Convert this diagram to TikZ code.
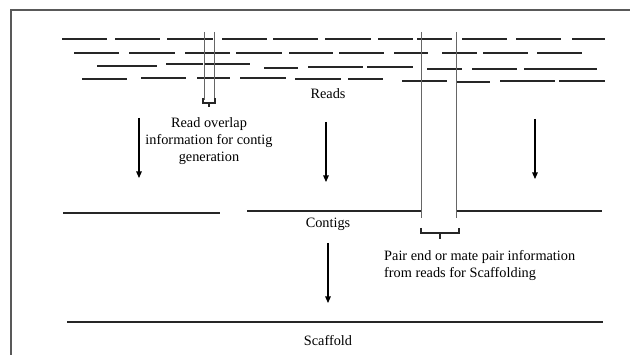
\documentclass[tikz,border=0pt]{standalone}
\usepackage{fontspec}
\setmainfont{Liberation Serif}
\usetikzlibrary{arrows.meta}

\begin{document}
\begin{tikzpicture}[x=1pt, y=-1pt,
  frm/.style={draw=black!65, line width=1.6pt},
  rd/.style={line width=2.2pt, black!85},
  ctg/.style={line width=2.7pt, black!85},
  gap/.style={draw=black!60, line width=0.8pt},
  brc/.style={line width=1.2pt, black!85},
  arr/.style={-{Triangle[width=5.5pt,length=6.5pt]}, line width=1.2pt},
  lbl/.style={font=\fontsize{14.3}{17}\selectfont, inner sep=0pt, align=center}
]
  \useasboundingbox (0,0) rectangle (630,355);
  % frame
  \draw[frm] (11,355) -- (11,10) -- (630,10);

  % reads
  \foreach \xa/\xb/\yy in {62/107/39, 115/160/39, 167/213/39, 222/267/39, 273/318/39,
      325/371/39, 378/413/39, 417/452/39, 462/507/39, 516/561/39, 572/605/39,
      74/119/53, 129/175/53, 185/230/53, 236/282/53, 289/333/53, 339/384/53,
      394/428/53, 442/477/53, 483/528/53, 537/582/53,
      97/157/66, 166/203/64, 205/250/64, 264/298/68, 308/363/67, 367/413/67,
      427/462/69, 472/517/69, 524/597/69,
      82/127/79, 141/186/78, 197/230/78, 240/286/78, 295/341/79, 348/383/79,
      402/447/81, 457/490/82, 500/555/81, 559/605/81}
    \draw[rd] (\xa,\yy) -- (\xb,\yy);
  \node[lbl] (reads) at (328,94) {Reads};

  % overlap window
  \draw[gap] (204,32) -- (204,100) (214,32) -- (214,100);
  \draw[brc] (203,98) -- (203,103) -- (215,103) -- (215,98) (209,103) -- (209,107);
  \node[lbl] (overlap) at (209,141) {Read overlap\\information for contig\\generation};

  % contigs
  \draw[ctg] (63,213) -- (220,213);
  \draw[ctg] (247,211) -- (421,211);
  \draw[ctg] (457,211) -- (602,211);
  \node[lbl] (contigs) at (328,224) {Contigs};

  % pair window
  \draw[gap] (421,32) -- (421,218) (456,32) -- (456,218);
  \draw[brc] (421,228) -- (421,233) -- (459,233) -- (459,228) (440,233) -- (440,239);
  \node[lbl, anchor=west, align=left] (pairinfo) at (384,265.5)
    {Pair end or mate pair information\\from reads for Scaffolding};

  % scaffold
  \draw[ctg] (67,322) -- (603,322);
  \node[lbl] (scaffold) at (328,341) {Scaffold};

  % arrows
  \foreach \n/\xx/\ya/\yb in {a/139/118/178, b/326/122/182, c/535/119/179, d/328/243/303}{
    \coordinate (s\n) at (\xx,\ya);
    \coordinate (t\n) at (\xx,\yb);
    \draw[arr] (s\n) -- (t\n);
  }
\end{tikzpicture}
\end{document}
